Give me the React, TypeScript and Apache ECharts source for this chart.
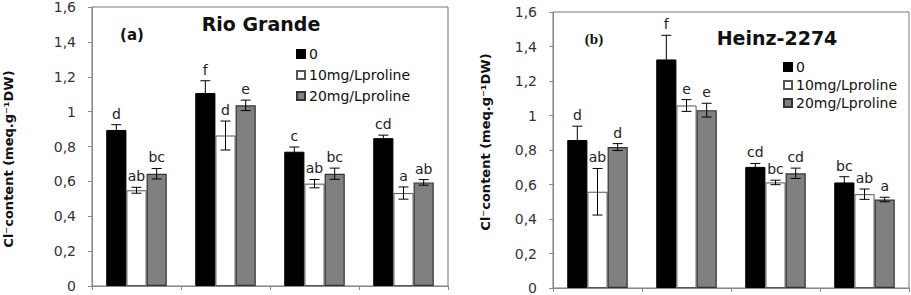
import React, { useEffect, useRef } from "react";
import * as echarts from "echarts";

// ---- data ----
const categories = ["T1", "T2", "T3", "T4"];
const seriesNames = ["0", "10mg/Lproline", "20mg/Lproline"];
const yTicks = [0, 0.2, 0.4, 0.6, 0.8, 1, 1.2, 1.4, 1.6];

// Rio Grande (a)
const rgZero = [0.895, 1.107, 0.77, 0.848];
const rgZeroErr = [0.03, 0.07, 0.027, 0.017];
const rg10 = [0.549, 0.863, 0.587, 0.533];
const rg10Err = [0.017, 0.083, 0.024, 0.035];
const rg20 = [0.644, 1.036, 0.644, 0.594];
const rg20Err = [0.03, 0.03, 0.032, 0.016];
const rgZeroLetters = ["d", "f", "c", "cd"];
const rg10Letters = ["ab", "d", "ab", "a"];
const rg20Letters = ["bc", "e", "bc", "ab"];

// Heinz-2274 (b)
const hzZero = [0.858, 1.325, 0.702, 0.612];
const hzZeroErr = [0.08, 0.14, 0.02, 0.033];
const hz10 = [0.558, 1.058, 0.612, 0.544];
const hz10Err = [0.135, 0.034, 0.013, 0.03];
const hz20 = [0.817, 1.031, 0.665, 0.513];
const hz20Err = [0.02, 0.04, 0.03, 0.013];
const hzZeroLetters = ["d", "f", "cd", "bc"];
const hz10Letters = ["ab", "e", "bc", "ab"];
const hz20Letters = ["d", "e", "cd", "a"];

const FONT = "'DejaVu Sans', sans-serif";
const GAP = 0.32;

const barStyles = [
  { color: "#000000", borderColor: "#000000", borderWidth: 1 },
  { color: "#ffffff", borderColor: "#555555", borderWidth: 1 },
  { color: "#808080", borderColor: "#333333", borderWidth: 1.2 },
];

function errSeries(gridIdx: number, k: number, vals: number[], errs: number[], letters: string[]) {
  return {
    type: "custom",
    xAxisIndex: gridIdx,
    yAxisIndex: gridIdx,
    z: 10,
    silent: true,
    data: vals.map((v, i) => [i, v, errs[i]]),
    renderItem: (params: any, api: any) => {
      const cat = api.value(0);
      const val = api.value(1);
      const err = api.value(2);
      const band = api.size([1, 0])[0];
      const barW = (band * (1 - GAP)) / 3;
      const cx = api.coord([cat, 0])[0] + (k - 1) * barW;
      const top = api.coord([cat, val + err])[1];
      const bot = api.coord([cat, val - err])[1];
      const cap = 5;
      const ls = { stroke: "#000", lineWidth: 1 };
      return {
        type: "group",
        children: [
          { type: "line", shape: { x1: cx, y1: top, x2: cx, y2: bot }, style: ls },
          { type: "line", shape: { x1: cx - cap, y1: top, x2: cx + cap, y2: top }, style: ls },
          { type: "line", shape: { x1: cx - cap, y1: bot, x2: cx + cap, y2: bot }, style: ls },
          {
            type: "text",
            x: cx,
            y: top - 4,
            style: {
              text: letters[params.dataIndex],
              align: "center",
              verticalAlign: "bottom",
              fontFamily: FONT,
              fontSize: 14,
              fill: "#222",
            },
          },
        ],
      };
    },
  };
}

function barSeries(gridIdx: number, k: number, vals: number[]) {
  return {
    type: "bar",
    name: seriesNames[k],
    xAxisIndex: gridIdx,
    yAxisIndex: gridIdx,
    data: vals,
    barGap: "0%",
    barCategoryGap: GAP * 100 + "%",
    itemStyle: barStyles[k],
  };
}

function yAxis(gridIdx: number) {
  return {
    type: "value",
    gridIndex: gridIdx,
    min: 0,
    max: 1.6,
    interval: 0.2,
    axisLine: { show: true, lineStyle: { color: "#888", width: 1 } },
    axisTick: { show: true, length: 4, lineStyle: { color: "#888" } },
    splitLine: { show: false },
    axisLabel: {
      margin: 16,
      fontFamily: FONT,
      fontSize: 14,
      color: "#333",
      formatter: (v: number) => {
        const t = yTicks.find((x) => Math.abs(x - v) < 1e-6);
        const n = t === undefined ? v : t;
        return String(+n.toFixed(1)).replace(".", ",");
      },
    },
  };
}

function xAxis(gridIdx: number) {
  return {
    type: "category",
    gridIndex: gridIdx,
    data: categories,
    axisLine: { show: true, lineStyle: { color: "#888", width: 1 } },
    axisTick: { show: true, length: 4, lineStyle: { color: "#888" } },
    axisLabel: { show: false },
  };
}

function legend(left: number, top: number, gap: number) {
  return {
    orient: "vertical",
    left,
    top,
    itemGap: gap,
    itemWidth: 8,
    itemHeight: 8,
    icon: "rect",
    selectedMode: false,
    data: seriesNames,
    textStyle: { fontFamily: FONT, fontSize: 14, color: "#111", padding: [0, 0, 0, -1] },
  };
}

const yTitle = "Cl\u207Bcontent (meq.g\u207B\u00B9DW)";

export default function App() {
  const ref = useRef<HTMLDivElement>(null);
  useEffect(() => {
    if (!ref.current) return;
    const chart = echarts.init(ref.current, undefined, { renderer: "svg" });
    chart.setOption({
      animation: false,
      backgroundColor: "#ffffff",
      grid: [
        { left: 92, top: 6, width: 356, height: 280, show: true, borderColor: "#777", borderWidth: 1 },
        { left: 553, top: 12, width: 356, height: 277, show: true, borderColor: "#777", borderWidth: 1 },
      ],
      xAxis: [xAxis(0), xAxis(1)],
      yAxis: [yAxis(0), yAxis(1)],
      legend: [legend(291, 42, 7), legend(778, 55, 4)],
      series: [
        barSeries(0, 0, rgZero),
        barSeries(0, 1, rg10),
        barSeries(0, 2, rg20),
        errSeries(0, 0, rgZero, rgZeroErr, rgZeroLetters),
        errSeries(0, 1, rg10, rg10Err, rg10Letters),
        errSeries(0, 2, rg20, rg20Err, rg20Letters),
        barSeries(1, 0, hzZero),
        barSeries(1, 1, hz10),
        barSeries(1, 2, hz20),
        errSeries(1, 0, hzZero, hzZeroErr, hzZeroLetters),
        errSeries(1, 1, hz10, hz10Err, hz10Letters),
        errSeries(1, 2, hz20, hz20Err, hz20Letters),
      ],
      graphic: [
        {
          type: "text",
          x: 261,
          y: 24,
          style: { text: "Rio Grande", align: "center", verticalAlign: "middle", fontFamily: FONT, fontWeight: "bold", fontSize: 19, fill: "#111" },
        },
        {
          type: "text",
          x: 132,
          y: 35,
          style: { text: "(a)", align: "center", verticalAlign: "middle", fontFamily: FONT, fontWeight: "bold", fontSize: 15, fill: "#111" },
        },
        {
          type: "text",
          x: 777,
          y: 38,
          style: { text: "Heinz-2274", align: "center", verticalAlign: "middle", fontFamily: FONT, fontWeight: "bold", fontSize: 19, fill: "#111" },
        },
        {
          type: "text",
          x: 594,
          y: 39,
          style: { text: "(b)", align: "center", verticalAlign: "middle", fontFamily: "'Liberation Serif', serif", fontWeight: "bold", fontSize: 15, fill: "#111" },
        },
        {
          type: "text",
          x: 8,
          y: 159,
          rotation: Math.PI / 2,
          style: { text: yTitle, align: "center", verticalAlign: "middle", fontFamily: FONT, fontWeight: "bold", fontSize: 13, fill: "#111" },
        },
        {
          type: "text",
          x: 485,
          y: 142,
          rotation: Math.PI / 2,
          style: { text: yTitle, align: "center", verticalAlign: "middle", fontFamily: FONT, fontWeight: "bold", fontSize: 13, fill: "#111" },
        },
      ],
    });
    return () => chart.dispose();
  }, []);
  return (
    <div
      ref={ref}
      style={{ position: "absolute", left: 0, top: 0, width: 911, height: 295 }}
    />
  );
}
